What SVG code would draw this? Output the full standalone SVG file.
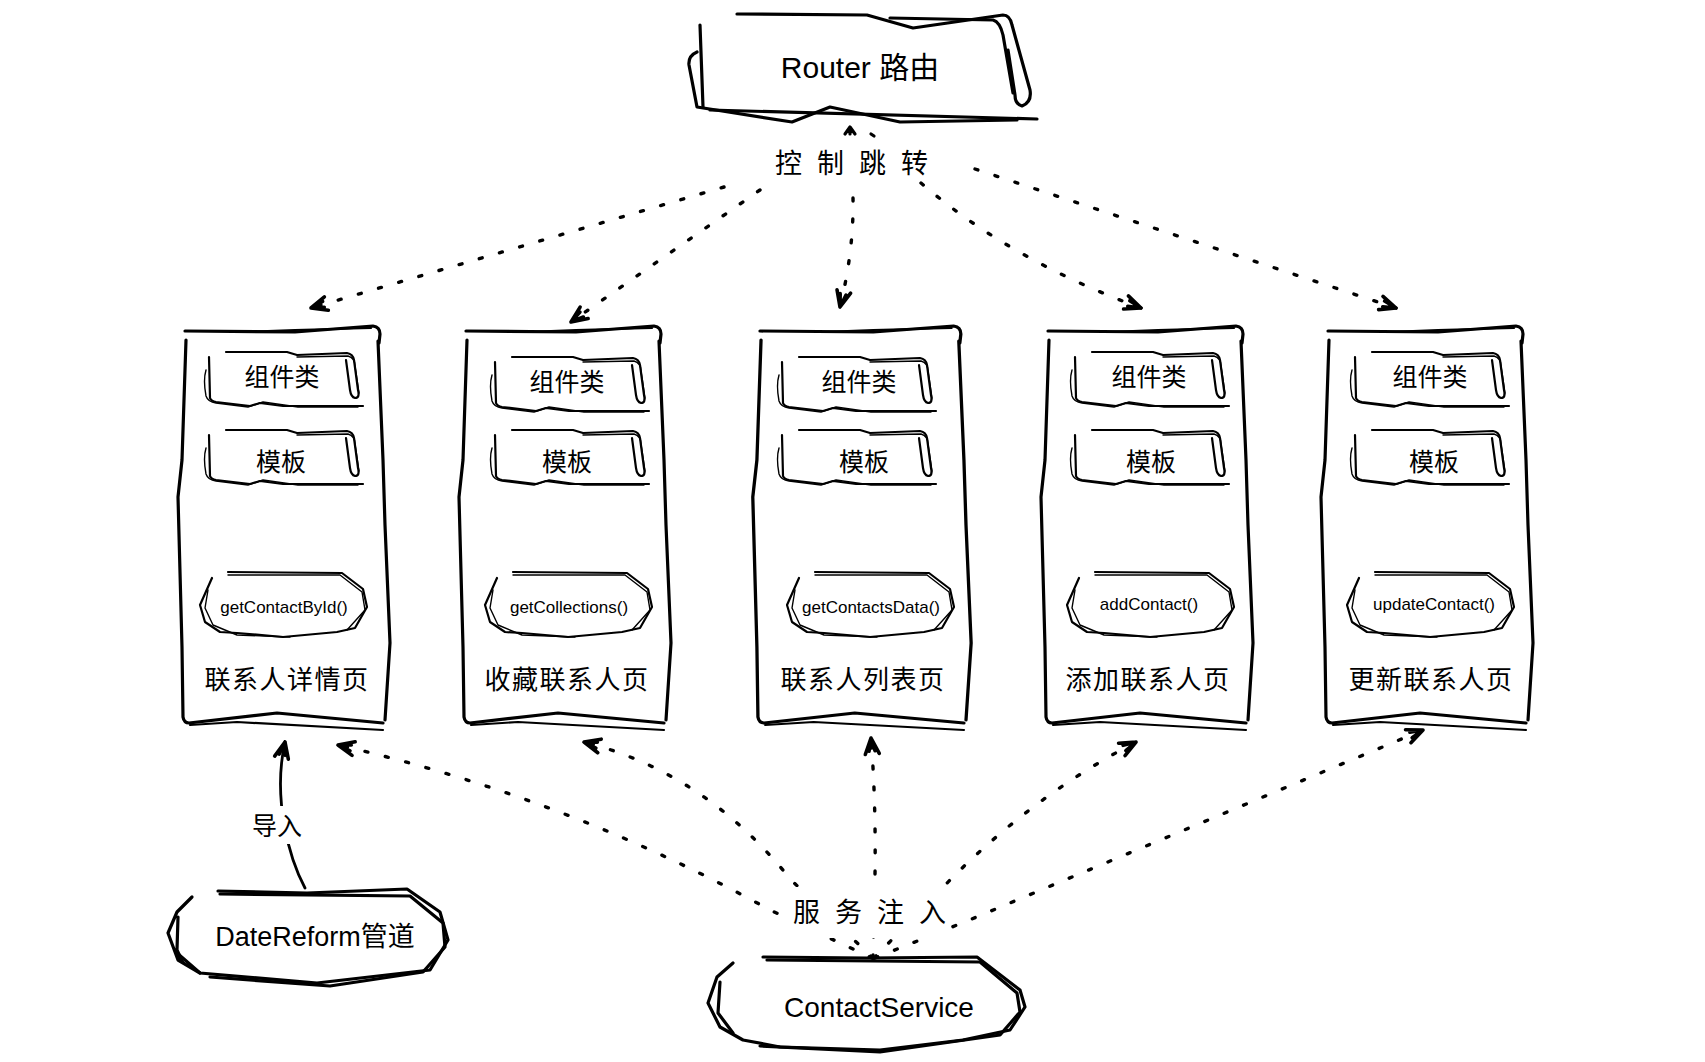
<svg xmlns="http://www.w3.org/2000/svg" xmlns:xlink="http://www.w3.org/1999/xlink" width="1705" height="1062" viewBox="0 0 1705 1062">
<style>
.s3{fill:none;stroke:#000;stroke-width:3.2;stroke-linecap:round;stroke-linejoin:round}
.s2{fill:none;stroke:#000;stroke-width:2.2;stroke-linecap:round;stroke-linejoin:round}
.s1{fill:none;stroke:#000;stroke-width:1.4;stroke-linecap:round;stroke-linejoin:round}
.dot{fill:none;stroke:#000;stroke-width:3.4;stroke-dasharray:3 18;stroke-linecap:round}
.solid{fill:none;stroke:#000;stroke-width:2.8;stroke-linecap:round}
.t{font-family:"Liberation Sans","Noto Sans CJK SC",sans-serif;fill:#000}
.c{font-family:"Noto Sans CJK SC","Liberation Sans",sans-serif;fill:#000}
.m{font-size:17px;text-anchor:middle}
.ib{font-size:25px;text-anchor:middle}
.ti{font-size:26px;text-anchor:middle;letter-spacing:1.5px}
.bg{fill:#fff;stroke:none}
</style>
<defs>
<marker id="ah" markerUnits="userSpaceOnUse" orient="auto" markerWidth="24" markerHeight="20" viewBox="-20 -10 24 20" refX="0" refY="0" overflow="visible">
<path d="M-16,-7 L0,0 L-16,7 M-13,-3 L0,0 L-13,3" fill="none" stroke="#000" stroke-width="3.6" stroke-linecap="round" stroke-linejoin="round"/>
</marker>
<g id="frame">
<path class="s3" d="M0,2 L110,3 L188,-3 Q195,-2 195,5 L194,14"/>
<path class="s3" d="M193,12 L198,131 L200,196 L205,314 L200,391"/>
<path class="s3" d="M1,11 L-3,131 L-7,168 L-3,318 L-2,388 Q-1,394 4,394 L92,384 L198,394"/>
<path class="s2" d="M5,396 L52,393 L198,401"/>
<path class="s2" d="M60,3 L110,1 L186,-1"/>
</g>
<g id="ibox">
<path class="s2" d="M18,0 L79,0 L89,3 L139,1 Q145,2 146,8 L150,38 Q152,46 147,46 Q143,45 142,38 L138,8"/>
<path class="s1" d="M89,5 L140,4 Q147,6 147,14 L151,41"/>
<path class="s2" d="M1,5 L2,46 Q3,49 8,50 L42,54 L52,51 L75,54 L155,54"/>
<path class="s1" d="M-2,18 Q-5,28 -2,44 Q0,50 8,51 L40,55 L55,50 L90,55 L150,55"/>
</g>
<g id="pill">
<path class="s2" d="M28,0 L142,1 L163,17 L167,35 L155,56 L137,60 L83,65 L37,61 L20,60 L5,50 L0,33 L12,6"/>
<path class="s1" d="M28,3 L140,3 L162,20 L165,38 L147,58 M8,18 L5,36 L13,53 L37,63 L90,65"/>
</g>
</defs>
<rect width="1705" height="1062" fill="#fff"/>

<g id="connectors">
<path class="dot" d="M724,187 L311,308" marker-end="url(#ah)"/>
<path class="dot" d="M760,190 L571,322" marker-end="url(#ah)"/>
<path class="dot" d="M853,198 Q854,250 840,307" marker-end="url(#ah)"/>
<path class="dot" d="M921,183 Q1010,260 1141,308" marker-end="url(#ah)"/>
<path class="dot" d="M975,169 L1396,308" marker-end="url(#ah)"/>
<path class="s3" d="M845,134 L850,127 L855,134 M850,127 L850,134"/>
<path class="s3" d="M871,134 L874,136"/>

<path class="dot" d="M872,958 L770,910 Q566,797 338,745" marker-end="url(#ah)"/>
<path class="dot" d="M873,958 L791,880 Q706,773 584,742" marker-end="url(#ah)"/>
<path class="dot" d="M873,958 L875,875 Q876,800 871,738" marker-end="url(#ah)"/>
<path class="dot" d="M874,958 L952,878 Q1036,794 1136,742" marker-end="url(#ah)"/>
<path class="dot" d="M875,958 L967,921 L1423,730" marker-end="url(#ah)"/>
<rect class="bg" x="785" y="887" width="164" height="51"/>
<text class="c" font-size="27" y="922"><tspan x="793">服</tspan><tspan x="835">务</tspan><tspan x="877">注</tspan><tspan x="919">入</tspan></text>

<text class="c" font-size="27" y="173"><tspan x="775">控</tspan><tspan x="817">制</tspan><tspan x="859">跳</tspan><tspan x="901">转</tspan></text>

<path class="solid" d="M305,888 C290,860 272,800 285,742" marker-end="url(#ah)"/>
<rect class="bg" x="246" y="806" width="62" height="38"/>
<text class="c" font-size="25" x="277" y="835" text-anchor="middle">导入</text>
</g>

<g id="router">
<path class="s3" d="M737,14 L867,15 L913,28 L1003,15 Q1010,15 1012,25 L1030,90 Q1032,102 1022,106 Q1015,104 1015,95 L1008,50"/>
<path class="s3" d="M890,18 L993,20 Q1000,22 1003,35 L1013,93"/>
<path class="s3" d="M700,25 L703,107"/>
<path class="s3" d="M697,52 Q688,56 689,65 L697,107 L792,122 L830,107 L900,122 L1017,120"/>
<path class="s3" d="M710,110 L1037,119"/>
<text class="t" font-size="30" x="860" y="78" text-anchor="middle">Router 路由</text>
</g>

<g id="page-detail">
<use href="#frame" x="185" y="329"/>
<use href="#ibox" x="208" y="352"/>
<use href="#ibox" x="208" y="430"/>
<use href="#pill" x="200" y="572"/>
<text class="c ib" x="282" y="386">组件类</text>
<text class="c ib" x="281" y="471">模板</text>
<text class="t m" x="284" y="613">getContactById()</text>
<text class="c ti" x="287" y="689">联系人详情页</text>
</g>

<g id="page-collections">
<use href="#frame" x="466" y="329"/>
<use href="#ibox" x="494" y="357"/>
<use href="#ibox" x="494" y="430"/>
<use href="#pill" x="485" y="572"/>
<text class="c ib" x="567" y="391">组件类</text>
<text class="c ib" x="567" y="471">模板</text>
<text class="t m" x="569" y="613">getCollections()</text>
<text class="c ti" x="567" y="689">收藏联系人页</text>
</g>

<g id="page-list">
<use href="#frame" transform="translate(760,329) scale(1.03,1)"/>
<use href="#ibox" x="781" y="357"/>
<use href="#ibox" x="781" y="430"/>
<use href="#pill" x="787" y="572"/>
<text class="c ib" x="859" y="391">组件类</text>
<text class="c ib" x="864" y="471">模板</text>
<text class="t m" x="871" y="613">getContactsData()</text>
<text class="c ti" x="863" y="689">联系人列表页</text>
</g>

<g id="page-add">
<use href="#frame" x="1048" y="329"/>
<use href="#ibox" x="1074" y="352"/>
<use href="#ibox" x="1074" y="430"/>
<use href="#pill" x="1067" y="572"/>
<text class="c ib" x="1149" y="386">组件类</text>
<text class="c ib" x="1151" y="471">模板</text>
<text class="t m" x="1149" y="610">addContact()</text>
<text class="c ti" x="1148" y="689">添加联系人页</text>
</g>

<g id="page-update">
<use href="#frame" x="1328" y="329"/>
<use href="#ibox" x="1354" y="352"/>
<use href="#ibox" x="1354" y="430"/>
<use href="#pill" x="1347" y="572"/>
<text class="c ib" x="1430" y="386">组件类</text>
<text class="c ib" x="1434" y="471">模板</text>
<text class="t m" x="1434" y="610">updateContact()</text>
<text class="c ti" x="1431" y="689">更新联系人页</text>
</g>

<g id="datereform">
<path class="s3" d="M218,891 L307,893 L407,889 L440,912 L448,940 L430,970 L317,983 L200,973 L177,953"/>
<path class="s3" d="M220,894 L410,896 L443,923 L445,947 L423,972 L330,986 L210,977"/>
<path class="s3" d="M192,897 L177,912 L168,933 L178,960 L200,973 M178,917 L177,950 L183,963"/>
<text class="t" font-size="27" x="315" y="946" text-anchor="middle">DateReform管道</text>
</g>

<g id="contactservice">
<path class="s3" d="M763,957 L867,958 L977,957 L1020,990 L1025,1007 L1010,1030 L963,1040 L880,1050 L780,1047 L743,1040 L720,1027 L708,1003 L717,977 L733,963"/>
<path class="s3" d="M767,960 L980,962 L1017,993 L1020,1012 L1000,1035 L880,1052 L760,1046 M720,982 L718,1013 L733,1033"/>
<text class="t" font-size="28" x="879" y="1017" text-anchor="middle">ContactService</text>
</g>
</svg>
